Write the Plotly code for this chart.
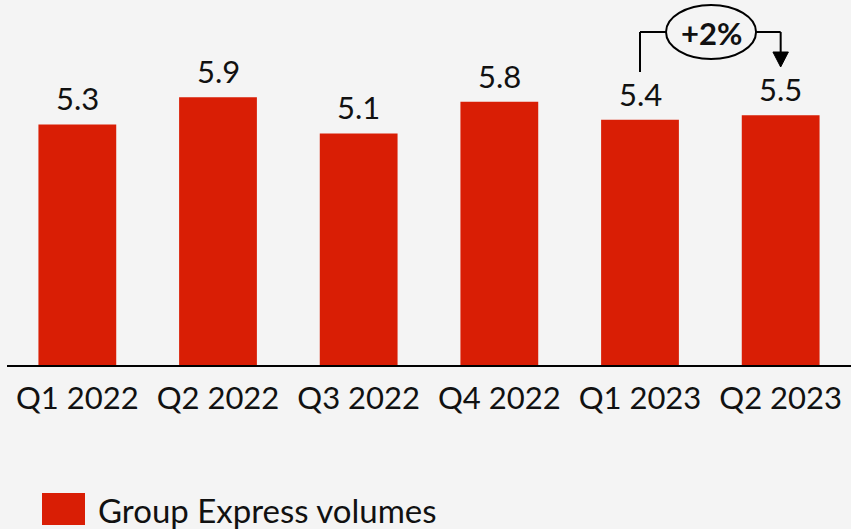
import plotly.graph_objects as go

categories = ["Q1 2022", "Q2 2022", "Q3 2022", "Q4 2022", "Q1 2023", "Q2 2023"]
volumes = [5.3, 5.9, 5.1, 5.8, 5.4, 5.5]
series_name = "Group Express volumes"
change_label = "+2%"

W, H = 851, 529
ML, MR, MT, MB = 7, 0, 0, 164
PW, PH = W - ML - MR, H - MT - MB
YMAX = 8.04

BAR = "#d91e05"
BG = "#f4f4f4"
FONT = "Lato, Roboto, sans-serif"
TXT = "#111111"

def py(pix):
    return 1 - (pix - MT) / PH

def px(pix):
    return (pix - ML) / PW

def dy(pix):
    return YMAX * py(pix)

fig = go.Figure()
fig.add_trace(go.Bar(
    x=categories, y=volumes, name=series_name,
    marker=dict(color=BAR, line=dict(width=0)),
    cliponaxis=False, showlegend=False, hoverinfo="x+y",
))

for c, v in zip(categories, volumes):
    fig.add_annotation(x=c, y=v, xref="x", yref="y", text=f"{v:.1f}", showarrow=False,
                       yanchor="bottom", yshift=5,
                       font=dict(size=31, color=TXT, family=FONT))

# bracket annotation between Q1 2023 and Q2 2023
i0, i1 = 4, 5
y_top = dy(32)
LW = 2
fig.add_shape(type="line", xref="x", yref="y", x0=i0, x1=i0, y0=dy(72), y1=y_top,
              line=dict(color="black", width=LW))
fig.add_shape(type="line", xref="x", yref="y", x0=i0, x1=i0 + 0.19, y0=y_top, y1=y_top,
              line=dict(color="black", width=LW))
fig.add_shape(type="line", xref="x", yref="y", x0=i1 - 0.18, x1=i1, y0=y_top, y1=y_top,
              line=dict(color="black", width=LW))
fig.add_shape(type="line", xref="x", yref="y", x0=i1, x1=i1, y0=y_top, y1=dy(54),
              line=dict(color="black", width=LW))
fig.add_shape(type="path", xref="x", yref="y",
              path=f"M {i1-0.055},{dy(52)} L {i1+0.055},{dy(52)} L {i1},{dy(67)} Z",
              fillcolor="black", line=dict(color="black", width=1))
fig.add_shape(type="circle", xref="x", yref="y",
              x0=i0 + 0.185, x1=i1 - 0.175, y0=dy(59), y1=dy(5),
              fillcolor=BG, line=dict(color="black", width=LW))
fig.add_annotation(x=(i0 + i1) / 2 + 0.005, y=dy(33), xref="x", yref="y", text=f"<b>{change_label}</b>",
                   showarrow=False, font=dict(size=31, color=TXT, family=FONT))

# legend
fig.add_shape(type="rect", xref="paper", yref="paper", x0=px(42), x1=px(85), y0=py(493), y1=py(525),
              fillcolor=BAR, line=dict(width=0))
fig.add_annotation(x=px(96), y=py(510), xref="paper", yref="paper", xanchor="left", yanchor="middle",
                   text=series_name, showarrow=False, font=dict(size=33, color=TXT, family=FONT))

fig.update_layout(
    width=W, height=H, margin=dict(l=ML, r=MR, t=MT, b=MB),
    paper_bgcolor=BG, plot_bgcolor=BG, bargap=0.447,
    font=dict(family=FONT, color=TXT),
    xaxis=dict(showline=True, linecolor="black", linewidth=2, showgrid=False,
               ticks="outside", ticklen=5, tickcolor=BG,
               tickfont=dict(size=31, color=TXT, family=FONT), fixedrange=True),
    yaxis=dict(range=[0, YMAX], visible=False, showgrid=False, fixedrange=True),
)

fig.write_html("out.html")
